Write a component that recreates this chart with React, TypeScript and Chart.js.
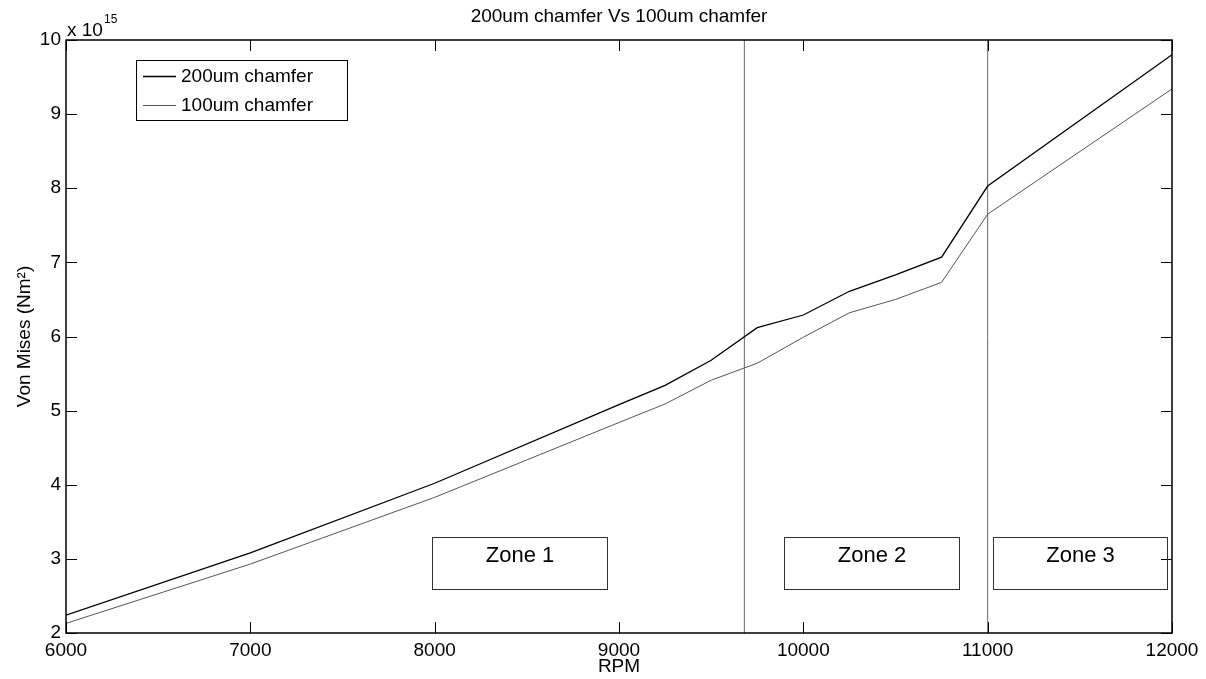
import React, { useEffect, useRef } from "react";
import { Chart, registerables } from "chart.js";

Chart.register(...registerables);

// ---- data ----
const rpm = [6000, 7000, 8000, 9000, 9250, 9500, 9750, 10000, 10250, 10500, 10750, 11000, 12000];
const chamfer200 = [2.24, 3.08, 4.02, 5.08, 5.34, 5.68, 6.12, 6.29, 6.61, 6.83, 7.07, 8.03, 9.8];
const chamfer100 = [2.13, 2.93, 3.83, 4.84, 5.09, 5.41, 5.64, 5.99, 6.32, 6.5, 6.73, 7.65, 9.34];
const seriesLabels = ["200um chamfer", "100um chamfer"];
const seriesColors = ["#000000", "#555555"];
const xTicks = [6000, 7000, 8000, 9000, 10000, 11000, 12000];
const yTicks = [2, 3, 4, 5, 6, 7, 8, 9, 10];
const zoneDividers = [9680, 11000];
const zoneNames = ["Zone 1", "Zone 2", "Zone 3"];
const zoneStart = [7985, 9895, 11029];
const zoneEnd = [8935, 10845, 11973];
const zoneTop = 3.29;
const zoneBottom = 2.59;
const chartTitle = "200um chamfer Vs 100um chamfer";
const xTitle = "RPM";
const yTitle = "Von Mises (Nm\u00B2)";
const exponentBase = "x 10";
const exponent = "15";

const FONT = "'Liberation Sans', Arial, Helvetica, sans-serif";

const overlayPlugin = {
  id: "matlabOverlay",
  afterDraw(chart: any) {
    const ctx = chart.ctx;
    const { left, right, top, bottom } = chart.chartArea;
    const xs = chart.scales.x;
    const ys = chart.scales.y;
    ctx.save();

    // axes box
    ctx.strokeStyle = "#000";
    ctx.lineWidth = 1.5;
    ctx.strokeRect(left, top, right - left, bottom - top);

    // inward ticks on all sides
    ctx.lineWidth = 1;
    const tl = 11;
    ctx.beginPath();
    xTicks.forEach((v) => {
      const px = Math.round(xs.getPixelForValue(v)) + 0.5;
      ctx.moveTo(px, bottom);
      ctx.lineTo(px, bottom - tl);
      ctx.moveTo(px, top);
      ctx.lineTo(px, top + tl);
    });
    yTicks.forEach((v) => {
      const py = Math.round(ys.getPixelForValue(v)) + 0.5;
      ctx.moveTo(left, py);
      ctx.lineTo(left + tl, py);
      ctx.moveTo(right, py);
      ctx.lineTo(right - tl, py);
    });
    ctx.stroke();

    // zone boxes
    ctx.strokeStyle = "#333";
    ctx.lineWidth = 1;
    ctx.fillStyle = "#000";
    ctx.font = `22px ${FONT}`;
    ctx.textAlign = "center";
    ctx.textBaseline = "middle";
    zoneNames.forEach((name, i) => {
      const x0 = Math.round(xs.getPixelForValue(zoneStart[i])) + 0.5;
      const x1 = Math.round(xs.getPixelForValue(zoneEnd[i])) + 0.5;
      const y0 = Math.round(ys.getPixelForValue(zoneTop)) + 0.5;
      const y1 = Math.round(ys.getPixelForValue(zoneBottom)) + 0.5;
      ctx.strokeRect(x0, y0, x1 - x0, y1 - y0);
      ctx.fillText(name, (x0 + x1) / 2, y0 + 18);
    });

    // legend
    ctx.strokeStyle = "#000";
    ctx.strokeRect(136.5, 60.5, 211, 60);
    ctx.font = `19px ${FONT}`;
    ctx.textAlign = "left";
    const legY = [76, 105];
    seriesLabels.forEach((lab, i) => {
      ctx.strokeStyle = seriesColors[i];
      ctx.lineWidth = i === 0 ? 1.3 : 1;
      ctx.beginPath();
      ctx.moveTo(143, legY[i] + 0.5);
      ctx.lineTo(176, legY[i] + 0.5);
      ctx.stroke();
      ctx.fillStyle = "#000";
      ctx.fillText(lab, 181, legY[i] + 1);
    });

    // title
    ctx.fillStyle = "#000";
    ctx.font = `19px ${FONT}`;
    ctx.textAlign = "center";
    ctx.textBaseline = "middle";
    ctx.fillText(chartTitle, (left + right) / 2, 17);

    // x title
    ctx.fillText(xTitle, (left + right) / 2, 667);

    // y title
    ctx.save();
    ctx.translate(25, (top + bottom) / 2);
    ctx.rotate(-Math.PI / 2);
    ctx.fillText(yTitle, 0, 0);
    ctx.restore();

    // exponent
    ctx.textAlign = "left";
    ctx.textBaseline = "alphabetic";
    ctx.font = `19px ${FONT}`;
    ctx.fillText(exponentBase, 67, 36);
    ctx.font = `12px ${FONT}`;
    ctx.fillText(exponent, 104, 23);

    ctx.restore();
  },
};

export default function App() {
  const ref = useRef<HTMLCanvasElement | null>(null);
  useEffect(() => {
    if (!ref.current) return;
    Chart.defaults.font.family = FONT;
    const datasets: any[] = [
      {
        label: seriesLabels[0],
        data: rpm.map((r, i) => ({ x: r, y: chamfer200[i] })),
        borderColor: seriesColors[0],
        borderWidth: 1.3,
        pointRadius: 0,
        tension: 0,
        fill: false,
      },
      {
        label: seriesLabels[1],
        data: rpm.map((r, i) => ({ x: r, y: chamfer100[i] })),
        borderColor: seriesColors[1],
        borderWidth: 1,
        pointRadius: 0,
        tension: 0,
        fill: false,
      },
      ...zoneDividers.map((d) => ({
        label: "divider",
        data: [
          { x: d, y: yTicks[0] },
          { x: d, y: yTicks[yTicks.length - 1] },
        ],
        borderColor: "#666666",
        borderWidth: 1,
        pointRadius: 0,
        fill: false,
      })),
    ];
    const chart = new Chart(ref.current, {
      type: "line",
      data: { datasets },
      options: {
        animation: false,
        responsive: false,
        maintainAspectRatio: false,
        layout: { padding: { left: 0, top: 40, right: 34, bottom: 0 } },
        plugins: {
          legend: { display: false },
          title: { display: false },
          tooltip: { enabled: false },
        },
        scales: {
          x: {
            type: "linear",
            min: 6000,
            max: 12000,
            afterFit: (s: any) => {
              s.height = 46;
            },
            afterBuildTicks: (s: any) => {
              s.ticks = xTicks.map((v) => ({ value: v }));
            },
            grid: { display: false, drawTicks: false },
            border: { display: false },
            ticks: {
              padding: 6,
              color: "#000",
              font: { size: 19, family: FONT },
              maxRotation: 0,
              autoSkip: false,
              callback: (v: any) => String(v),
            },
          },
          y: {
            type: "linear",
            min: 2,
            max: 10,
            afterFit: (s: any) => {
              s.width = 66;
            },
            afterBuildTicks: (s: any) => {
              s.ticks = yTicks.map((v) => ({ value: v }));
            },
            grid: { display: false, drawTicks: false },
            border: { display: false },
            ticks: {
              padding: 5,
              color: "#000",
              font: { size: 19, family: FONT },
              autoSkip: false,
              callback: (v: any) => String(v),
            },
          },
        },
      },
      plugins: [overlayPlugin],
    });
    return () => chart.destroy();
  }, []);
  return (
    <div style={{ position: "absolute", left: 0, top: 0, width: 1206, height: 679, background: "#fff" }}>
      <canvas ref={ref} width={1206} height={679} style={{ width: 1206, height: 679 }} />
    </div>
  );
}
